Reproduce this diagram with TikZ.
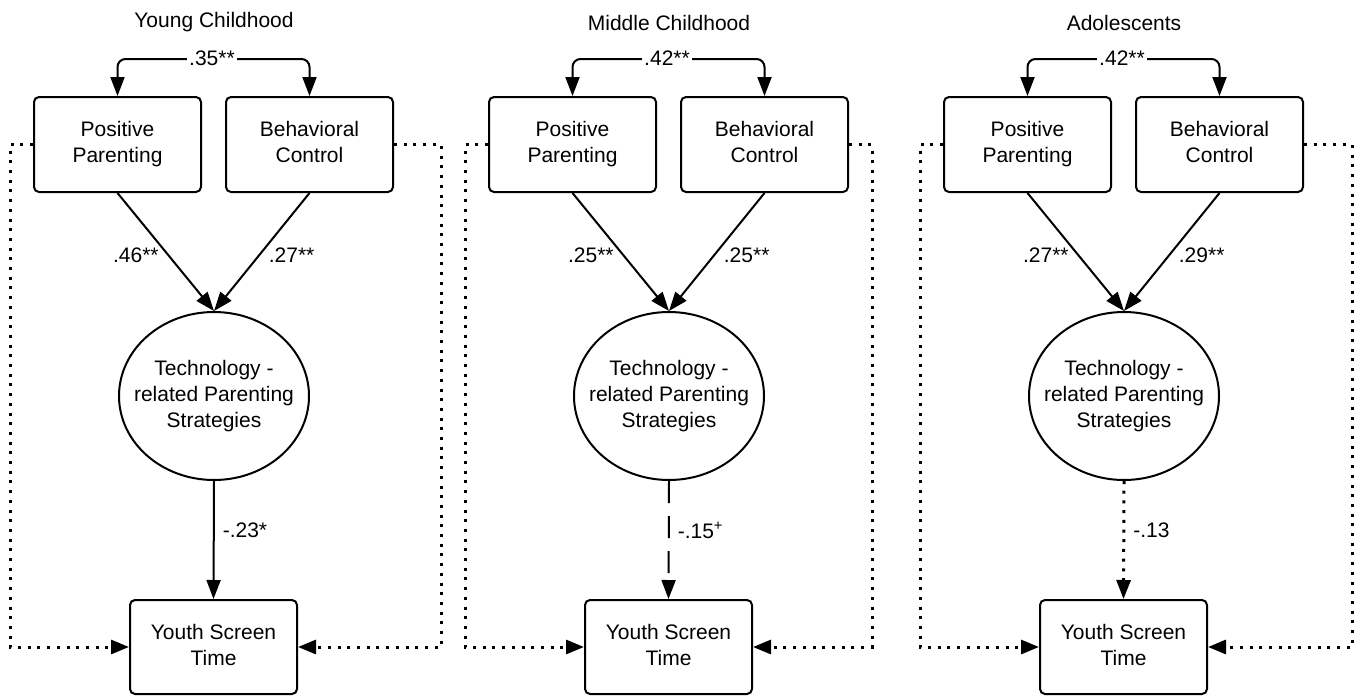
\documentclass[tikz,border=0pt]{standalone}
\usepackage{fontspec}
\setmainfont{Liberation Sans}
\usetikzlibrary{arrows.meta,shapes.geometric}
\tikzset{
  txt/.style={font=\fontsize{21}{26}\selectfont},
  boxnode/.style={txt, draw, line width=2pt, rounded corners=5pt, minimum width=167pt, minimum height=95pt, align=center, inner sep=0pt},
  ellnode/.style={txt, draw, ellipse, line width=2pt, minimum width=190pt, minimum height=168pt, align=center, inner sep=-14pt},
  titlenode/.style={txt, inner sep=0pt},
  lab/.style={txt, inner sep=1pt},
  tipA/.tip={Triangle[length=19pt,width=14pt]},
  conn/.style={line width=2pt, -tipA},
  dotpat/.style={line width=3pt, dash pattern=on 3pt off 6.7pt},
  dashpat/.style={dash pattern=on 22pt off 13pt},
  dotconn/.style={dotpat, -{Triangle[length=18pt,width=14pt]}}
}
\newcommand\mypanel[9]{%
  \node[titlenode] (#1t) at ({#2+214},22.5) {#3};
  \node[boxnode] (#1pp) at ({#2+117.5},144.5) {Positive\\Parenting};
  \node[boxnode] (#1bc) at ({#2+309.5},144.5) {Behavioral\\Control\vphantom{g}};
  \node[ellnode] (#1el) at ({#2+214},396) {Technology -\\related Parenting\\Strategies};
  \node[boxnode, minimum height=94pt] (#1ys) at ({#2+213.5},647) {Youth Screen\\Time\vphantom{g}};
  \coordinate (#1L) at ({#2+10},0);
  \coordinate (#1R) at (#9,0);
  \draw[conn, tipA-tipA, rounded corners=8pt] (#1pp.north) -- ++(0,-37) -| (#1bc.north);
  \node[lab, fill=white, inner xsep=2pt] (#1r) at ({#2+212},58.5) {#4};
  \draw[conn] (#1pp.south) -- node[lab, pos=0.53, anchor=east, xshift=-8pt] (#1a) {#5} (#1el.north);
  \draw[conn] (#1bc.south) -- node[lab, pos=0.53, anchor=west, xshift=8pt] (#1b) {#6} (#1el.north);
  \draw[conn, #8] (#1el.south) -- node[lab, pos=0.42, anchor=west, xshift=7pt] (#1c) {#7} (#1ys.north);
  \draw[dotconn] (#1pp.west) -- (#1pp.west -| #1L) -- (#1ys.west -| #1L) -- (#1ys.west);
  \draw[dotconn] (#1bc.east) -- (#1bc.east -| #1R) -- (#1ys.east -| #1R) -- (#1ys.east);
}
\begin{document}
\begin{tikzpicture}[x=1pt,y=-1pt]
  \fill[white] (0,0) rectangle (1360,696);
  \useasboundingbox (0,0) rectangle (1360,696);
  \mypanel{a}{0}{Young Childhood}{.35**}{.46**}{.27**}{-.23*}{}{441}
  \mypanel{b}{455}{Middle Childhood}{.42**}{.25**}{.25**}{-.15\textsuperscript{+}}{dashpat}{872}
  \mypanel{c}{910}{Adolescents}{.42**}{.27**}{.29**}{-.13}{dotpat}{1352}
\end{tikzpicture}
\end{document}
